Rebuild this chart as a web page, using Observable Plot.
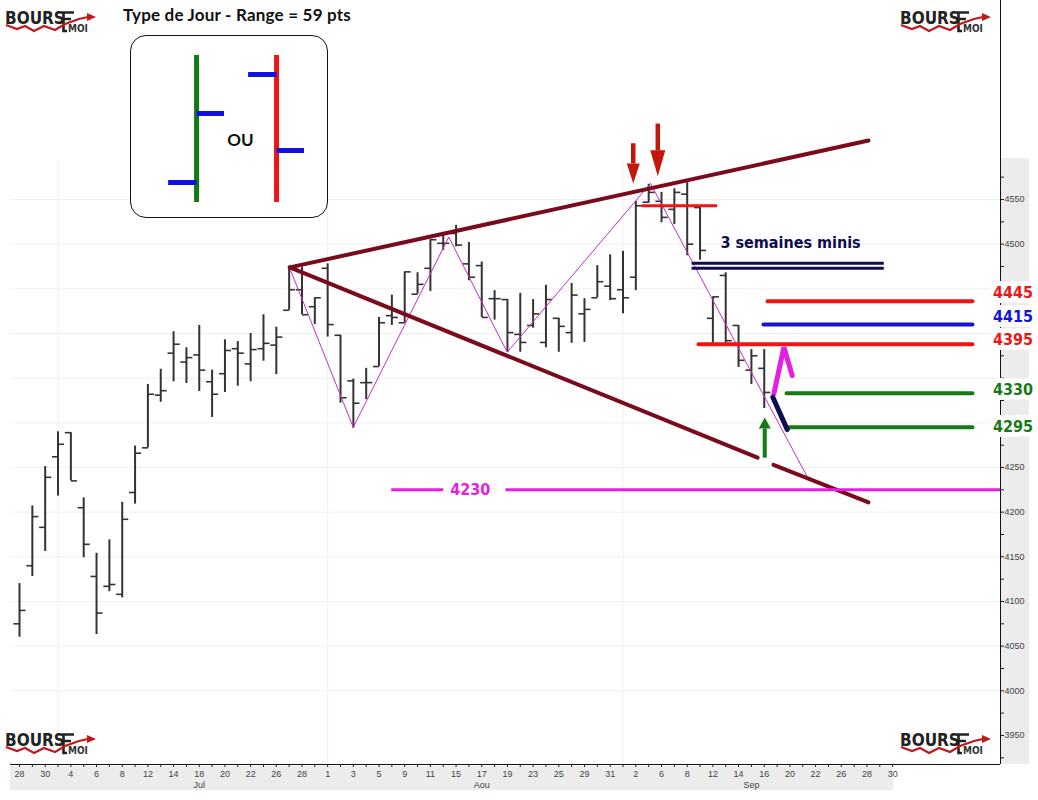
<!DOCTYPE html>
<html><head><meta charset="utf-8">
<script src="https://cdn.jsdelivr.net/npm/d3@7"></script>
<script src="https://cdn.jsdelivr.net/npm/@observablehq/plot@0.6"></script>
<style>
html,body{margin:0;padding:0;background:#fff;}
#wrap{position:relative;width:1038px;height:800px;overflow:hidden;font-family:"Liberation Sans",Arial,sans-serif;}
.band{position:absolute;background:#ececec;}
#chart{position:absolute;left:0;top:0;}
#title{position:absolute;left:123px;top:4px;font-family:Lato;font-weight:bold;font-size:17px;letter-spacing:0.2px;color:#111;white-space:nowrap;}
#inset{position:absolute;left:130px;top:35px;width:196px;height:181px;border:1px solid #111;border-radius:16px;background:#fff;overflow:hidden;}
.logo{position:absolute;}
</style></head>
<body><div id="wrap">
<div class="band" style="left:1001px;top:158px;width:28px;height:606px"></div>
<div class="band" style="left:10px;top:766px;width:883px;height:24px"></div>
<div id="chart"></div>
<div id="title">Type de Jour - Range = 59 pts</div>
<div id="inset"></div>
</div>
<script>
// ---------- DATA ----------
const tradingDays = [
"2016-06-28","2016-06-29","2016-06-30","2016-07-01",
"2016-07-04","2016-07-05","2016-07-06","2016-07-07","2016-07-08",
"2016-07-11","2016-07-12","2016-07-13","2016-07-14","2016-07-15",
"2016-07-18","2016-07-19","2016-07-20","2016-07-21","2016-07-22",
"2016-07-25","2016-07-26","2016-07-27","2016-07-28","2016-07-29",
"2016-08-01","2016-08-02","2016-08-03","2016-08-04","2016-08-05",
"2016-08-08","2016-08-09","2016-08-10","2016-08-11","2016-08-12",
"2016-08-15","2016-08-16","2016-08-17","2016-08-18","2016-08-19",
"2016-08-22","2016-08-23","2016-08-24","2016-08-25","2016-08-26",
"2016-08-29","2016-08-30","2016-08-31","2016-09-01","2016-09-02",
"2016-09-05","2016-09-06","2016-09-07","2016-09-08","2016-09-09",
"2016-09-12","2016-09-13","2016-09-14","2016-09-15","2016-09-16",
"2016-09-19","2016-09-20","2016-09-21","2016-09-22","2016-09-23",
"2016-09-26","2016-09-27","2016-09-28","2016-09-29","2016-09-30"];

const opens  = [4075,4140,4183,4262,4289,4205,4128,4117,4108,4222,4272,4331,4378,4368,4376,4346,4355,4383,4366,4383,4387,4426,4449,4430,4473,4398,4347,4345,4363,4420,4412,4444,4473,4501,4512,4478,4476,4439,4438,4399,4409,4390,4417,4401,4422,4440,4453,4449,4463,4547,4548,4539,4556,4541,4417,4465,4409,4359,4361];
const highs  = [4120,4207,4251,4290,4289,4216,4154,4169,4211,4274,4343,4360,4402,4384,4409,4359,4393,4391,4400,4421,4407,4474,4474,4440,4478,4398,4349,4361,4418,4443,4469,4468,4505,4512,4521,4502,4480,4448,4438,4445,4438,4454,4417,4456,4439,4476,4488,4492,4548,4567,4558,4562,4569,4541,4441,4468,4409,4382,4382];
const lows   = [4060,4128,4156,4218,4235,4149,4063,4111,4104,4209,4272,4323,4346,4344,4335,4306,4334,4341,4346,4369,4354,4426,4421,4410,4396,4322,4294,4326,4363,4409,4412,4444,4447,4493,4497,4459,4418,4415,4379,4379,4406,4384,4379,4389,4390,4440,4437,4422,4448,4546,4524,4522,4487,4482,4389,4389,4362,4343,4316];
const closes = [4090,4195,4239,4276,4235,4164,4087,4119,4192,4266,4332,4336,4388,4373,4359,4332,4381,4378,4382,4389,4396,4449,4421,4440,4410,4328,4322,4345,4412,4418,4469,4455,4505,4501,4499,4463,4418,4439,4401,4390,4422,4438,4408,4443,4427,4458,4439,4440,4543,4558,4530,4558,4500,4493,4441,4392,4370,4375,4334];

const priceTickLabels = [3950,4000,4050,4100,4150,4200,4250,4500,4550];
const priceMinorTicks = [3925,3950,3975,4000,4025,4050,4075,4100,4125,4150,4175,4200,4225,4250,4275,4300,4325,4350,4375,4400,4425,4450,4475,4500,4525,4550,4575];
const gridValues = [4000,4050,4100,4150,4200,4250,4300,4350,4400,4450,4500,4550];
const monthNames = ["Jul","Aou","Sep"];
const monthLabelDays = ["2016-07-18","2016-08-17","2016-09-15"];
const monthStartDays = ["2016-07-01","2016-08-01","2016-09-01"];

// annotations (x in trading-day index units, y in points)
const upperTrendX = [21.05, 66.12];
const upperTrendY = [4474, 4616];
const lowerTrendSeg = [1, 1, 2, 2];
const lowerTrendX = [21.05, 57.48, 58.72, 66.12];
const lowerTrendY = [4474, 4261, 4253, 4211];
const zigzagX = [21.05, 25.99, 33.43, 37.98, 49.14, 61.37];
const zigzagY = [4473, 4295, 4508, 4379, 4568, 4239];

const levelLabels = ["4445","4415","4395","4330","4295"];
const levelValues = [4436, 4410, 4388, 4333, 4295];
const levelStarts = [58.26, 57.94, 52.88, 59.74, 59.89];
const levelEnd = 74.22;
const levelLabelY = [4445, 4419, 4393, 4337, 4296];
const levelLabelX = 77.38;

const supportLabel = "4230";
const supportValue = 4225;
const supportSegStarts = [28.95, 37.85];
const supportSegEnds = [33.0, 76.40];
const supportLabelX = 35.1;

const topRedValue = 4543, topRedStart = 48.44, topRedEnd = 54.34;
const minisLabel = "3 semaines minis";
const minisValues = [4478.7, 4473.1], minisStart = 52.34, minisEnd = 67.31;
const minisLabelX = 60.05, minisLabelY = 4501;

const downArrowX = [47.80, 49.71], downArrowFrom = [4613, 4635], downArrowTo = [4568, 4576];
const upArrowX = 58.04, upArrowFrom = 4261, upArrowTo = 4306;
const magentaArrowX = [58.75, 59.53, 60.18], magentaArrowY = [4332.5, 4384.7, 4353];
const navyStrokeX = [58.67, 59.79], navyStrokeY = [4328.7, 4292.5];

// legend schematic (relative units)
const legendX = [3.32, 7.40];
const legendLow = [0, 0], legendHigh = [100, 100];
const legendOpen = [13.6, 87.1], legendClose = [60.5, 35.4];
const legendLabel = "OU", legendLabelX = 5.56, legendLabelY = 42;

// ---------- STYLE ----------
const C = {bar:"#333", maroon:"#7a0b1c", zig:"#cc2acc", red:"#f01414", blue:"#1414d2", green:"#157a15",
  magenta:"#e41ee4", navy:"#0c0c50", darkred:"#c4160c", lgreen:"#117a11", lblue:"#1010e0"};
const levelColors = [C.red, C.blue, C.red, C.green, C.green];
const bold = "DejaVu Sans Condensed";

// ---------- BUILD ----------
const X0 = -0.701, X1 = 76.40, Y0 = 3917.5, Y1 = 4772.8;
const pxPerDay = 990 / (X1 - X0), pxPerPt = 764 / (Y1 - Y0);
const idx = d => tradingDays.indexOf(d);

const bars = opens.map((o, k) => ({i: k, open: o, high: highs[k], low: lows[k], close: closes[k]}));
const upper = upperTrendX.map((x, k) => ({x, y: upperTrendY[k]}));
const lower = lowerTrendX.map((x, k) => ({x, y: lowerTrendY[k], z: lowerTrendSeg[k]}));
const zig = zigzagX.map((x, k) => ({x, y: zigzagY[k]}));
const levels = levelLabels.map((l, k) => ({label: l, value: levelValues[k], start: levelStarts[k], labelY: levelLabelY[k], color: levelColors[k]}));
const support = supportSegStarts.map((s, k) => ({start: s, end: supportSegEnds[k]}));

function headPts(x, from, to, L, W, id) {
  const dir = to > from ? 1 : -1;
  const base = to - dir * L / pxPerPt;
  return {base, pts: [{id, x: x - W / pxPerDay, y: base}, {id, x, y: to}, {id, x: x + W / pxPerDay, y: base}]};
}
const headSizes = [[20, 6.5], [26, 7.5]];
const shafts = [], heads = [];
downArrowX.forEach((x, k) => {
  const h = headPts(x, downArrowFrom[k], downArrowTo[k], headSizes[k][0], headSizes[k][1], "d" + k);
  shafts.push({x, y1: downArrowFrom[k], y2: h.base, color: C.darkred, w: 4.5});
  h.pts.forEach(p => heads.push({...p, color: C.darkred}));
});
{
  const h = headPts(upArrowX, upArrowFrom, upArrowTo, 11, 6, "u");
  shafts.push({x: upArrowX, y1: upArrowFrom, y2: h.base, color: C.green, w: 4});
  h.pts.forEach(p => heads.push({...p, color: C.green}));
}
const magArrow = magentaArrowX.map((x, k) => ({x, y: magentaArrowY[k]}));
const navyStroke = navyStrokeX.map((x, k) => ({x, y: navyStrokeY[k]}));

const chart = Plot.plot({
  width: 1038, height: 800,
  marginLeft: 10, marginRight: 38, marginTop: 0, marginBottom: 36,
  style: {background: "transparent", fontFamily: "Liberation Sans, Arial, sans-serif"},
  x: {type: "linear", domain: [X0, X1], label: null},
  y: {type: "linear", domain: [Y0, Y1], label: null},
  color: {type: "identity"},
  marks: [
    Plot.ruleY(gridValues, {stroke: "#f0f0f0"}),
    Plot.ruleX(monthStartDays.map(idx), {stroke: "#f0f0f0", y1: Y0, y2: 4594}),
    // OHLC bars
    Plot.ruleX(bars, {x: "i", y1: "low", y2: "high", stroke: C.bar, strokeWidth: 2}),
    Plot.link(bars, {x1: d => d.i - 0.47, x2: "i", y1: "open", y2: "open", stroke: C.bar, strokeWidth: 1.6}),
    Plot.link(bars, {x1: "i", x2: d => d.i + 0.47, y1: "close", y2: "close", stroke: C.bar, strokeWidth: 1.6}),
    // zigzag & trend lines
    Plot.line(zig, {x: "x", y: "y", stroke: C.zig, strokeWidth: 1}),
    Plot.line(upper, {x: "x", y: "y", stroke: C.maroon, strokeWidth: 4}),
    Plot.line(lower, {x: "x", y: "y", z: "z", stroke: C.maroon, strokeWidth: 4}),
    // horizontal annotation lines
    Plot.link([topRedValue], {x1: topRedStart, x2: topRedEnd, y1: d => d, y2: d => d, stroke: C.red, strokeWidth: 3}),
    Plot.link(minisValues, {x1: minisStart, x2: minisEnd, y1: d => d, y2: d => d, stroke: C.navy, strokeWidth: 3}),
    Plot.text([minisLabel], {x: minisLabelX, y: minisLabelY, text: d => d, fill: C.navy, fontSize: 16, fontWeight: "bold", fontFamily: bold}),
    Plot.link(levels, {x1: "start", x2: levelEnd, y1: "value", y2: "value", stroke: "color", strokeWidth: 4, strokeLinecap: "round"}),
    Plot.link(support, {x1: "start", x2: "end", y1: supportValue, y2: supportValue, stroke: C.magenta, strokeWidth: 3}),
    Plot.text([supportLabel], {x: supportLabelX, y: supportValue, text: d => d, fill: C.magenta, fontSize: 16, fontWeight: "bold", fontFamily: bold}),
    // arrows
    Plot.link(shafts, {x1: "x", x2: "x", y1: "y1", y2: "y2", stroke: "color", strokeWidth: "w"}),
    Plot.line(heads, {x: "x", y: "y", z: "id", fill: "color", stroke: "none", curve: "linear-closed"}),
    Plot.line(magArrow, {x: "x", y: "y", stroke: C.magenta, strokeWidth: 5, strokeLinejoin: "miter"}),
    Plot.line(navyStroke, {x: "x", y: "y", stroke: C.navy, strokeWidth: 5, strokeLinecap: "round"}),
    // axes
    Plot.ruleY([Y0], {stroke: "#111"}),
    Plot.ruleX([X1], {stroke: "#111"}),
    Plot.axisX({ticks: tradingDays.map((d, k) => k), tickSize: 3, tickFormat: () => "", stroke: "#222"}),
    Plot.axisX({ticks: tradingDays.map((d, k) => k).filter(k => k % 2 === 0), tickSize: 0, tickPadding: 6,
      tickFormat: k => String(+tradingDays[k].slice(8)), fontSize: 9, fill: "#444"}),
    Plot.axisX({ticks: monthLabelDays.map(idx), tickSize: 0, tickPadding: 17,
      tickFormat: k => monthNames[monthLabelDays.map(idx).indexOf(k)], fontSize: 9, fill: "#444"}),
    Plot.axisY({anchor: "right", ticks: priceMinorTicks, tickSize: 3, tickFormat: () => "", stroke: "#222", label: null}),
    Plot.axisY({anchor: "right", ticks: priceTickLabels, tickSize: 0, tickPadding: 4, tickFormat: d => String(d),
      fontSize: 9, fill: "#444", label: null}),
    // level labels
    Plot.text(levels, {x: levelLabelX, y: "labelY", text: "label", fill: "color", stroke: "white", strokeWidth: 10,
      fontSize: 16, fontWeight: "bold", fontFamily: bold})
  ]
});
document.getElementById("chart").appendChild(chart);

// legend schematic
const legendBars = legendX.map((x, k) => ({x, low: legendLow[k], high: legendHigh[k], open: legendOpen[k], close: legendClose[k], color: [C.lgreen, C.red][k]}));
const inset = Plot.plot({
  width: 196, height: 181, marginLeft: 0, marginRight: 0, marginTop: 19, marginBottom: 15,
  style: {background: "transparent"},
  x: {domain: [0, 10], axis: null}, y: {domain: [0, 100], axis: null},
  color: {type: "identity"},
  marks: [
    Plot.ruleX(legendBars, {x: "x", y1: "low", y2: "high", stroke: "color", strokeWidth: 5}),
    Plot.link(legendBars, {x1: d => d.x - 1.45, x2: "x", y1: "open", y2: "open", stroke: C.lblue, strokeWidth: 5}),
    Plot.link(legendBars, {x1: "x", x2: d => d.x + 1.4, y1: "close", y2: "close", stroke: C.lblue, strokeWidth: 5}),
    Plot.text([legendLabel], {x: legendLabelX, y: legendLabelY, text: d => d, fontSize: 17, fontWeight: "bold", fontFamily: "Lato", fill: "#111"})
  ]
});
document.getElementById("inset").appendChild(inset);

// logos
function logo(left, top) {
  const d = document.createElement("div");
  d.className = "logo"; d.style.left = left + "px"; d.style.top = top + "px";
  d.innerHTML = `<svg width="96" height="30" viewBox="0 0 96 30">
<text x="2" y="20" font-family="DejaVu Sans Condensed" font-weight="bold" font-size="17" fill="#222">BOURS</text>
<path d="M71,8.5 H60.5 V27 H64 M60.5,15 H68" fill="none" stroke="#222" stroke-width="2.6"/>
<polyline points="3,21 14,25 22,22 31,27 41,22 52,26 62,20 76,15 85,13" fill="none" stroke="#c0181e" stroke-width="2.2"/>
<path d="M84,9 L93,13 L84,17 Z" fill="#c0181e"/>
<text x="65" y="28" font-family="DejaVu Sans Condensed" font-weight="bold" font-size="10" fill="#333">MOI</text>
</svg>`;
  document.getElementById("wrap").appendChild(d);
}
logo(3, 4); logo(898, 4); logo(3, 726); logo(898, 726);
</script>
</body></html>
